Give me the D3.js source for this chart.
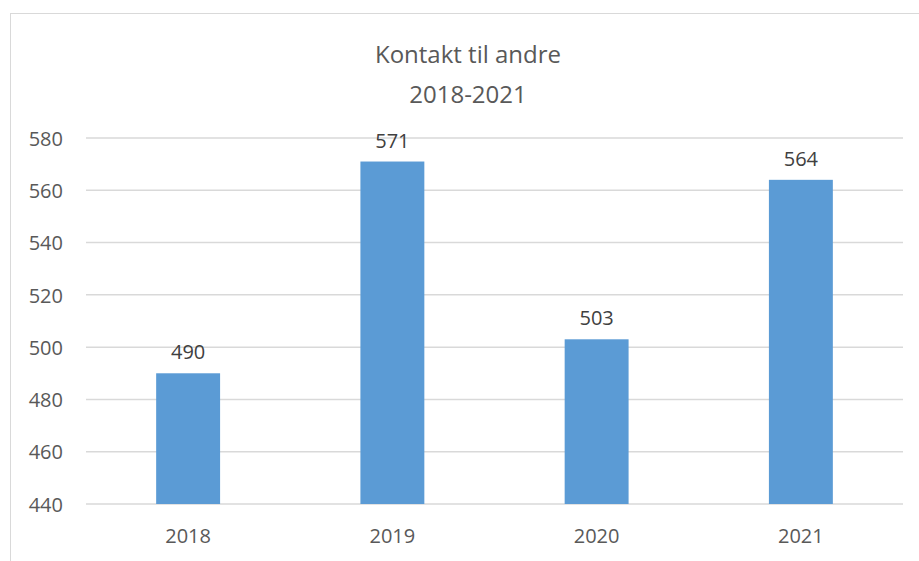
<!DOCTYPE html>
<html><head><meta charset="utf-8">
<script src="https://cdn.jsdelivr.net/npm/d3@7"></script>
<style>body{margin:0;background:#fff;} text{font-family:"Open Sans",sans-serif;}</style>
</head><body>
<svg id="c" width="919" height="561"></svg>
<script>
const categories = ["2018","2019","2020","2021"];
const values = [490,571,503,564];
const yTicks = [440,460,480,500,520,540,560,580];
const titleLines = ["Kontakt til andre","2018-2021"];

const svg = d3.select("#c");
svg.append("rect").attr("x",10.5).attr("y",13.5).attr("width",930).attr("height",600)
  .attr("fill","#fff").attr("stroke","#d9d9d9").attr("stroke-width",1);

const m = {l:86,r:903,t:138,b:504};
const x = d3.scaleBand().domain(categories).range([m.l,m.r]).paddingInner(0.687).paddingOuter(0.3435);
const y = d3.scaleLinear().domain([440,580]).range([m.b,m.t]);

const grid = svg.append("g");
grid.selectAll("line").data(yTicks).join("line")
  .attr("x1",m.l).attr("x2",m.r).attr("y1",d=>y(d)).attr("y2",d=>y(d))
  .attr("stroke","#d9d9d9").attr("stroke-width",1.5);

const yAxis = svg.append("g").attr("transform",`translate(${m.l-23},0)`)
  .call(d3.axisLeft(y).tickValues(yTicks).tickSize(0).tickPadding(0));
yAxis.select(".domain").remove();
yAxis.selectAll("text").attr("fill","#595959").style("font-size","20px").attr("dy","0.36em");

svg.append("g").selectAll("rect").data(values).join("rect")
  .attr("x",(d,i)=>x(categories[i])).attr("width",x.bandwidth())
  .attr("y",d=>y(d)).attr("height",d=>y(440)-y(d)).attr("fill","#5b9bd5");

svg.append("g").selectAll("text").data(values).join("text")
  .attr("x",(d,i)=>x(categories[i])+x.bandwidth()/2).attr("y",d=>y(d)-14)
  .attr("text-anchor","middle").attr("fill","#404040").style("font-size","20px").text(d=>d);

const xAxis = svg.append("g").attr("transform",`translate(0,${m.b+18})`)
  .call(d3.axisBottom(x).tickSize(0).tickPadding(0));
xAxis.select(".domain").remove();
xAxis.selectAll("text").attr("fill","#595959").style("font-size","20px").attr("dy","1.05em");

svg.append("g").selectAll("text").data(titleLines).join("text")
  .attr("x",468).attr("y",(d,i)=>63+i*40).attr("text-anchor","middle")
  .attr("fill","#595959").style("font-size","24px").text(d=>d);
</script>
</body></html>
